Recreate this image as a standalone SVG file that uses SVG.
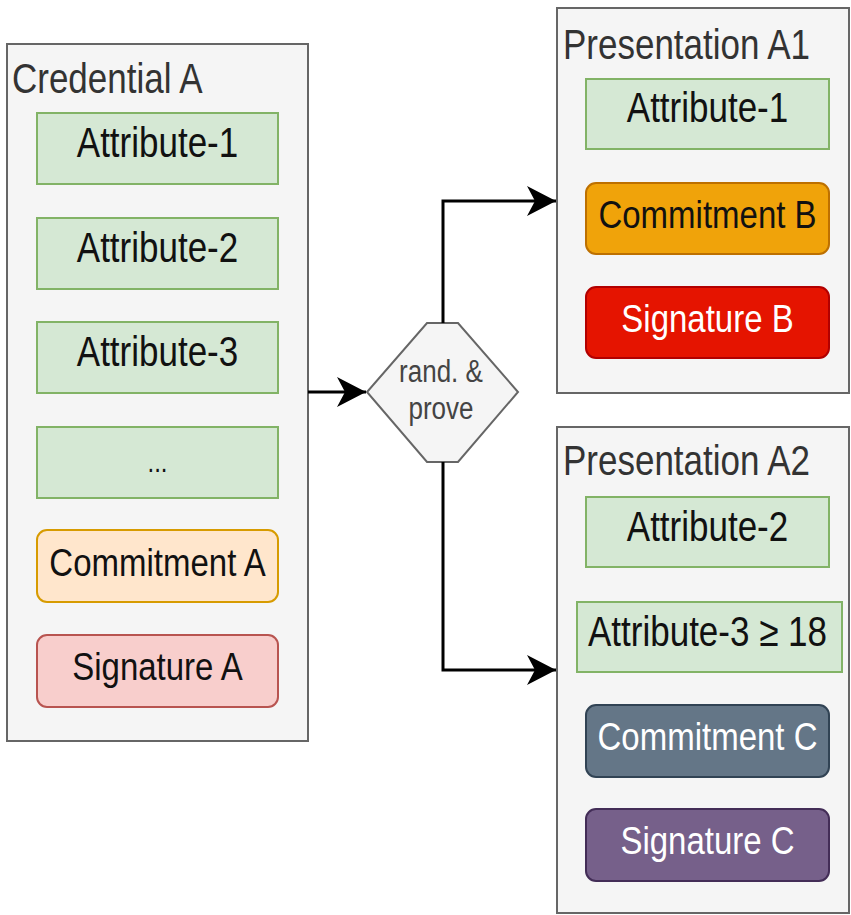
<svg xmlns="http://www.w3.org/2000/svg" width="851" height="915" viewBox="0 0 851 915">
<defs>
<style>
.bg{fill:#ffffff}
.cont{fill:#f5f5f5;stroke:#666666;stroke-width:2}
.attr{fill:#d5e8d4;stroke:#82b366;stroke-width:2}
.comA{fill:#ffe6cc;stroke:#d79b00;stroke-width:2}
.sigA{fill:#f8cecc;stroke:#b85450;stroke-width:2}
.comB{fill:#f0a30a;stroke:#bd7000;stroke-width:2}
.sigB{fill:#e51400;stroke:#b20000;stroke-width:2}
.comC{fill:#647687;stroke:#314354;stroke-width:2}
.sigC{fill:#76608a;stroke:#432d57;stroke-width:2}
.hex{fill:#f5f5f5;stroke:#666666;stroke-width:2}
text{font-family:"Liberation Sans",Arial,Helvetica,sans-serif}
.title{font-size:35px;fill:#333333}
.t35{font-size:35px;fill:#111111;text-anchor:middle}
.t33{font-size:33px;fill:#111111;text-anchor:middle}
.w33{font-size:33px;fill:#ffffff;text-anchor:middle}
.small{font-size:26px;fill:#444444;text-anchor:middle}
.edge{fill:none;stroke:#000000;stroke-width:3}
</style>
<marker id="arr" markerUnits="userSpaceOnUse" markerWidth="30" markerHeight="30" refX="29" refY="15" orient="auto" viewBox="0 0 30 30">
<path d="M0,0 L29,15 L0,30 L8,15 Z" fill="#000000"/>
</marker>
</defs>
<rect class="bg" x="0" y="0" width="851" height="915"/>

<g id="credential-a">
<rect class="cont" x="7" y="44" width="301" height="697"/>
<text class="title" transform="translate(12,93) scale(1,1.2)">Credential A</text>
</g>
<g id="cred-attr1">
<rect class="attr" x="37" y="113" width="241" height="71"/>
<text class="t35" transform="translate(157.5,157) scale(1,1.2)">Attribute-1</text>
</g>
<g id="cred-attr2">
<rect class="attr" x="37" y="218" width="241" height="71"/>
<text class="t35" transform="translate(157.5,262) scale(1,1.2)">Attribute-2</text>
</g>
<g id="cred-attr3">
<rect class="attr" x="37" y="322" width="241" height="71"/>
<text class="t35" transform="translate(157.5,366) scale(1,1.2)">Attribute-3</text>
</g>
<g id="cred-more">
<rect class="attr" x="37" y="427" width="241" height="71"/>
<text class="t35" style="font-size:24px" transform="translate(157.5,472) scale(1,1.2)">...</text>
</g>
<g id="commitment-a">
<rect class="comA" x="37" y="530" width="241" height="72" rx="10"/>
<text class="t33" transform="translate(157.5,576) scale(1,1.2)">Commitment A</text>
</g>
<g id="signature-a">
<rect class="sigA" x="37" y="635" width="241" height="72" rx="10"/>
<text class="t33" transform="translate(157.5,680) scale(1,1.2)">Signature A</text>
</g>

<g id="rand-prove">
<polygon class="hex" points="427,323 458,323 518,392 458,462 427,462 367,392"/>
<text class="small" transform="translate(441,382) scale(1,1.2)">rand. &amp;</text>
<text class="small" transform="translate(441,419) scale(1,1.2)">prove</text>
</g>

<g id="presentation-a1">
<rect class="cont" x="557" y="8" width="292" height="385"/>
<text class="title" transform="translate(563,59) scale(1,1.2)">Presentation A1</text>
</g>
<g id="pa1-attr1">
<rect class="attr" x="586" y="79" width="243" height="70"/>
<text class="t35" transform="translate(707.5,122) scale(1,1.2)">Attribute-1</text>
</g>
<g id="commitment-b">
<rect class="comB" x="586" y="183" width="243" height="71" rx="10"/>
<text class="t33" transform="translate(707.5,228) scale(1,1.2)">Commitment B</text>
</g>
<g id="signature-b">
<rect class="sigB" x="586" y="287" width="243" height="71" rx="10"/>
<text class="w33" transform="translate(707.5,332) scale(1,1.2)">Signature B</text>
</g>

<g id="presentation-a2">
<rect class="cont" x="557" y="427" width="292" height="486"/>
<text class="title" transform="translate(563,475) scale(1,1.2)">Presentation A2</text>
</g>
<g id="pa2-attr2">
<rect class="attr" x="586" y="497" width="243" height="70"/>
<text class="t35" transform="translate(707.5,541) scale(1,1.2)">Attribute-2</text>
</g>
<g id="pa2-attr3">
<rect class="attr" x="577" y="602" width="265" height="70"/>
<text class="t35" transform="translate(707.5,646) scale(1,1.2)">Attribute-3 ≥ 18</text>
</g>
<g id="commitment-c">
<rect class="comC" x="586" y="705" width="243" height="72" rx="10"/>
<text class="w33" transform="translate(707.5,750) scale(1,1.2)">Commitment C</text>
</g>
<g id="signature-c">
<rect class="sigC" x="586" y="809" width="243" height="72" rx="10"/>
<text class="w33" transform="translate(707.5,854) scale(1,1.2)">Signature C</text>
</g>

<g id="connectors">
<path class="edge" d="M308,392 H366" marker-end="url(#arr)"/>
<path class="edge" d="M443,323 V201 H556" marker-end="url(#arr)"/>
<path class="edge" d="M443,462 V670 H556" marker-end="url(#arr)"/>
</g>
</svg>
